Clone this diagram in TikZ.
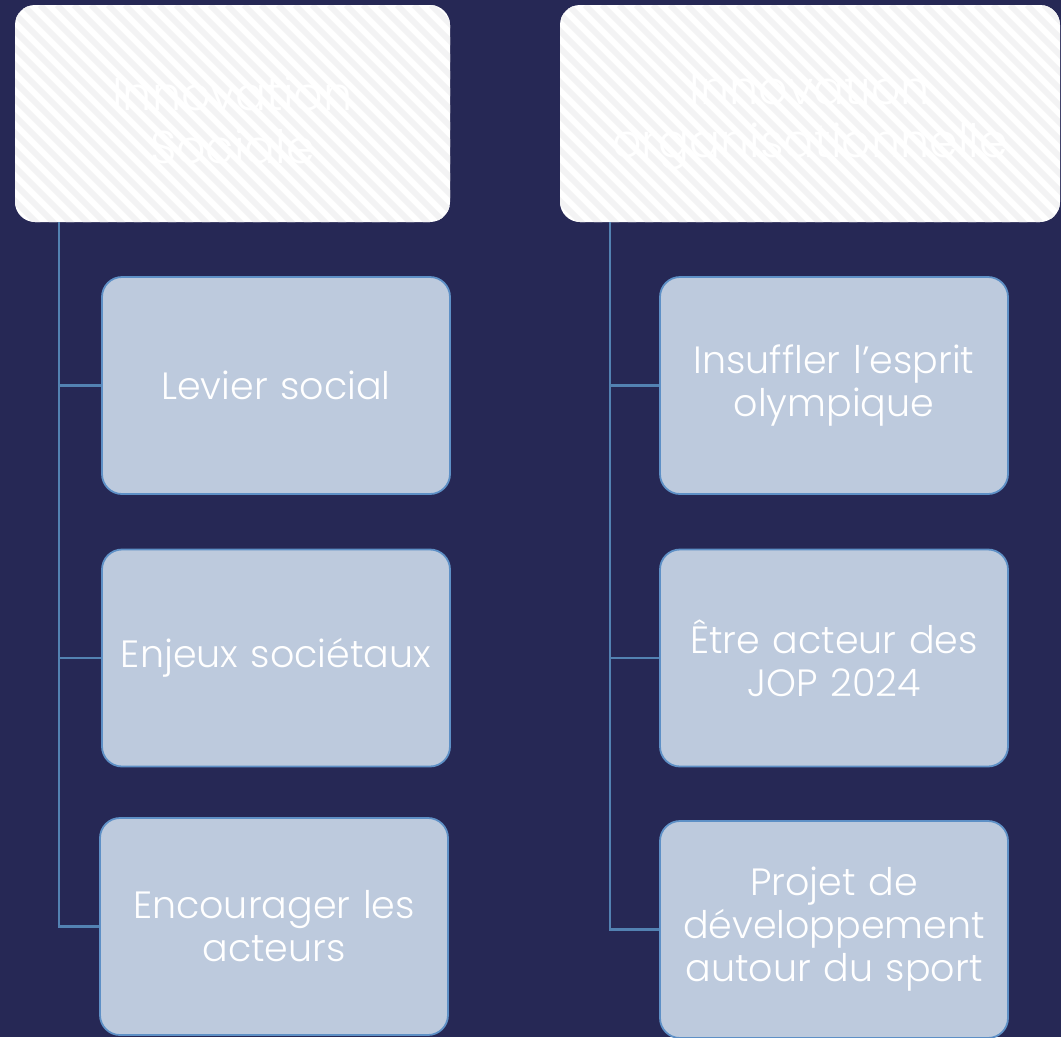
\documentclass[tikz,border=0pt]{standalone}
\usepackage{fontspec}
\setmainfont{Poppins}[UprightFont=* Light]
\usetikzlibrary{calc}
\definecolor{bgnavy}{HTML}{262855}
\definecolor{childfill}{HTML}{BDCADD}
\definecolor{childedge}{HTML}{5E90C6}
\definecolor{connline}{HTML}{5382B2}
\definecolor{stripecol}{HTML}{F3F3F4}
\begin{document}
\begin{tikzpicture}[x=1pt,y=-1pt,
  topbox/.style={fill=white, rounded corners=20pt, inner sep=0pt,
    path picture={\foreach \i in {-400,-383,...,600}
      \draw[stripecol, line width=6pt] ($(path picture bounding box.north west)+(\i,0)$) -- ++(300,300);}},
  toptext/.style={text=white, align=center, inner sep=0pt, font=\fontsize{46}{53}\selectfont},
  childbox/.style={fill=childfill, draw=childedge, line width=1.8pt, rounded corners=20pt,
    minimum width=348pt, minimum height=217pt, inner sep=2pt, text=white, align=center,
    font=\fontsize{38}{43}\selectfont, text width=342pt},
  conn/.style={draw=connline, line width=2.5pt}]
\fill[bgnavy] (0,0) rectangle (1061,1037);
\useasboundingbox (0,0) rectangle (1061,1037);
% top boxes
\node[topbox, minimum width=435pt, minimum height=217pt] (ts) at (232.5,113.5) {};
\node[topbox, minimum width=500pt, minimum height=217pt] (to) at (810,113.5) {};
\node[toptext] (tsl) at ($(ts.center)+(0,6)$) {Innovation\\Sociale};
\node[toptext] (tol) at ($(to.center)+(0,6)$) {Innovation\\organisationnelle};
% left children
\node[childbox] (a1) at (276,385.5) {Levier social};
\node[childbox] (a2) at (276,658) {Enjeux sociétaux};
\node[childbox] (a3) at (274,926.5) {Encourager les\\acteurs};
% right children
\node[childbox] (b1) at (834,385.5) {Insuffler l’esprit\\olympique};
\node[childbox] (b2) at (834,658) {Être acteur des\\JOP 2024};
\node[childbox] (b3) at (834,929.5) {Projet de\\développement\\autour du sport};
% connectors
\coordinate (lt) at ($(ts.south west)+(44,0)$);
\coordinate (rt) at ($(to.south west)+(50,0)$);
\draw[conn] (lt) |- (a1.west);
\draw[conn] (lt) |- (a2.west);
\draw[conn] (lt) |- (a3.west);
\draw[conn] (rt) |- (b1.west);
\draw[conn] (rt) |- (b2.west);
\draw[conn] (rt) |- (b3.west);
\end{tikzpicture}
\end{document}
